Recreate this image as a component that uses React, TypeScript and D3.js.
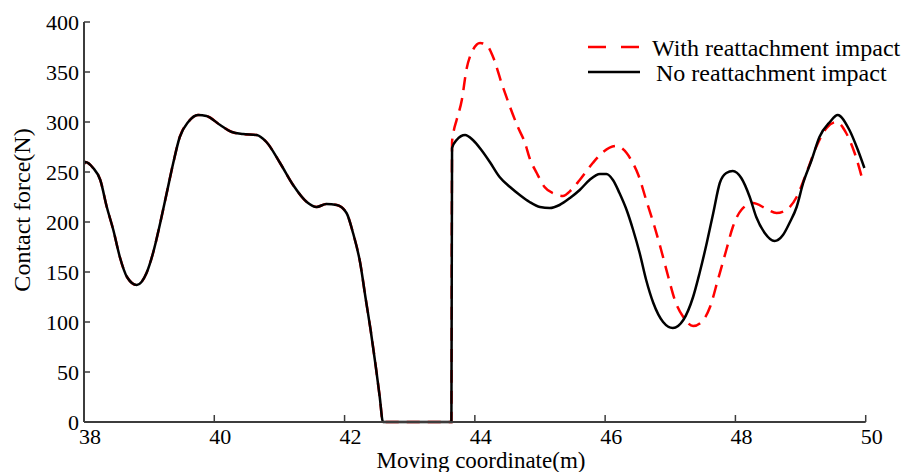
import React from "react";
import * as d3 from "d3";

// Shared section (both curves identical before reattachment)
const commonX = [38.0, 38.02, 38.14, 38.25, 38.35, 38.45, 38.55, 38.66, 38.81, 38.96, 39.06, 39.17, 39.27, 39.37, 39.47, 39.6, 39.75, 39.88, 40.09, 40.27, 40.44, 40.65, 40.8, 41.01, 41.21, 41.42, 41.57, 41.72, 41.88, 42.03, 42.13, 42.24, 42.32, 42.4, 42.48, 42.54, 42.59, 43.64];
const commonY = [258, 260, 254, 242, 215, 192, 165, 145, 137, 149, 169, 199, 229, 259, 285, 300, 307, 306, 297, 290, 288, 287, 280, 259, 237, 220, 215, 218, 217, 209, 189, 159, 125, 92, 55, 25, 0, 0];

// After reattachment: no reattachment impact (black)
const noImpactX = [43.65, 43.72, 43.85, 43.97, 44.1, 44.23, 44.38, 44.54, 44.69, 44.84, 45.0, 45.15, 45.3, 45.46, 45.61, 45.76, 45.92, 46.02, 46.12, 46.22, 46.33, 46.43, 46.53, 46.63, 46.74, 46.89, 47.04, 47.2, 47.35, 47.45, 47.56, 47.66, 47.76, 47.86, 47.96, 48.09, 48.22, 48.32, 48.45, 48.6, 48.73, 48.83, 48.94, 49.04, 49.17, 49.29, 49.45, 49.57, 49.75, 49.88, 49.98];
const noImpactY = [274, 282, 287, 282, 272, 260, 245, 235, 227, 220, 215, 214, 217, 224, 232, 242, 248, 248, 242, 229, 212, 192, 169, 142, 119, 100, 94, 102, 125, 149, 179, 209, 239, 249, 251, 244, 225, 205, 189, 181, 187, 199, 215, 239, 262, 285, 300, 307, 292, 272, 254];

// After reattachment: with reattachment impact (red dashed)
const withImpactX = [43.65, 43.67, 43.72, 43.8, 43.87, 43.97, 44.08, 44.18, 44.28, 44.41, 44.54, 44.66, 44.77, 44.84, 44.95, 45.07, 45.23, 45.35, 45.48, 45.61, 45.81, 45.97, 46.17, 46.33, 46.4, 46.51, 46.63, 46.76, 46.86, 46.97, 47.07, 47.2, 47.35, 47.48, 47.61, 47.73, 47.86, 47.96, 48.09, 48.27, 48.48, 48.63, 48.78, 48.94, 49.09, 49.24, 49.4, 49.55, 49.7, 49.83, 49.96];
const withImpactY = [280, 289, 302, 322, 352, 372, 379, 377, 365, 339, 315, 295, 279, 264, 249, 235, 228, 226, 232, 242, 259, 270, 276, 269, 262, 247, 222, 195, 172, 145, 122, 105, 96, 100, 115, 142, 172, 195, 212, 219, 213, 209, 212, 225, 249, 275, 294, 300, 289, 269, 240];

const xTicks = [38, 40, 42, 44, 46, 48, 50];
const yTicks = [0, 50, 100, 150, 200, 250, 300, 350, 400];
const legendLabels = ["With reattachment impact", "No reattachment impact"];
const xTitle = "Moving coordinate(m)";
const yTitle = "Contact force(N)";

type P = [number, number];

export default function App() {
  const W = 904, H = 472;
  const x = d3.scaleLinear().domain([38, 50]).range([84, 865.7]);
  const y = d3.scaleLinear().domain([0, 400]).range([422, 22]);

  const common: P[] = commonX.map((v, i) => [v, commonY[i]]);
  const black: P[] = common.concat(noImpactX.map((v, i) => [v, noImpactY[i]] as P));
  const red: P[] = common.concat(withImpactX.map((v, i) => [v, withImpactY[i]] as P));

  const line = d3
    .line<P>()
    .x((d) => x(d[0]))
    .y((d) => y(d[1]))
    .curve(d3.curveMonotoneX);

  const font = "'Liberation Serif', 'Times New Roman', serif";
  const axisColor = "#3c3c3c";

  return (
    <svg
      width={W}
      height={H}
      style={{ position: "absolute", left: 0, top: 0, background: "#fff" }}
      fontFamily={font}
    >
      <rect width={W} height={H} fill="#fff" />
      {/* data */}
      <path d={line(red) || ""} fill="none" stroke="#ff0000" strokeWidth={2.5} strokeDasharray="13 8" />
      <path d={line(black) || ""} fill="none" stroke="#000" strokeWidth={2.5} />

      {/* axes */}
      <line x1={x(38)} x2={x(38)} y1={y(400)} y2={y(0)} stroke={axisColor} strokeWidth={2} />
      <line x1={x(38)} x2={x(50)} y1={y(0)} y2={y(0)} stroke={axisColor} strokeWidth={2} />
      {yTicks.map((t) => (
        <g key={"y" + t}>
          <line x1={x(38)} x2={x(38) + 6} y1={y(t)} y2={y(t)} stroke={axisColor} strokeWidth={1.5} />
          <text x={x(38) - 5} y={y(t) + 8} textAnchor="end" fontSize={22} fill="#000">
            {t}
          </text>
        </g>
      ))}
      {xTicks.map((t) => (
        <g key={"x" + t}>
          <line x1={x(t)} x2={x(t)} y1={y(0)} y2={y(0) - 7} stroke={axisColor} strokeWidth={1.5} />
          <text x={x(t) + 6} y={444} textAnchor="middle" fontSize={22} fill="#000">
            {t}
          </text>
        </g>
      ))}
      <text x={481} y={468} textAnchor="middle" fontSize={23} fill="#000">
        {xTitle}
      </text>
      <text
        transform={`translate(30, 210) rotate(-90)`}
        textAnchor="middle"
        fontSize={24}
        fill="#000"
      >
        {yTitle}
      </text>

      {/* legend */}
      <line x1={588} x2={640} y1={47} y2={47} stroke="#ff0000" strokeWidth={2.5} strokeDasharray="18 15" />
      <text x={652} y={56} fontSize={24} fill="#000">
        {legendLabels[0]}
      </text>
      <line x1={588} x2={640} y1={72} y2={72} stroke="#000" strokeWidth={2.5} />
      <text x={656} y={81} fontSize={24} fill="#000">
        {legendLabels[1]}
      </text>
    </svg>
  );
}
